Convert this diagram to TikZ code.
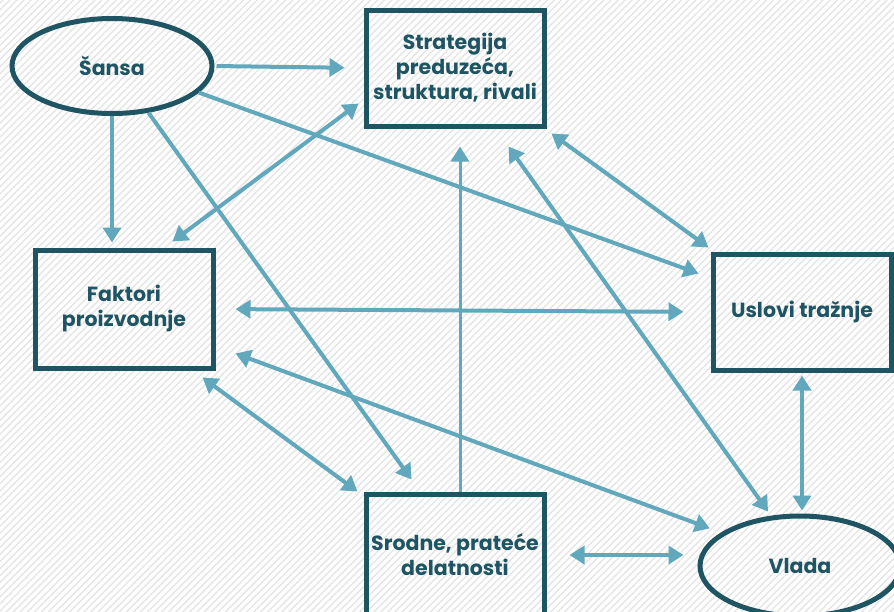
\documentclass[tikz,border=0pt]{standalone}
\usepackage{fontspec}
\setmainfont{Poppins}
\usetikzlibrary{arrows.meta,calc,patterns.meta,shapes.geometric}
\definecolor{tamna}{HTML}{1F5563}
\definecolor{svetla}{HTML}{61A8BC}

\begin{document}
\begin{tikzpicture}[x = 1pt, y = -1pt,
    every node/.style = {draw = tamna, line width = 5pt, text = tamna, align = center,
        font = \fontsize{20.5}{25}\selectfont\bfseries},
    kutija/.style = {rectangle, minimum width = 178pt, minimum height = 116pt},
    elipsa/.style = {ellipse, minimum width = 200pt, minimum height = 95pt},
    vrh/.tip = {Triangle[width = 18pt, length = 15pt]},
    veza/.style = {draw = svetla, line width = 4pt, -vrh},
    dvoveza/.style = {veza, vrh-vrh}]
        \useasboundingbox (0,0) rectangle (894,611);
        \clip (0,0) rectangle (894,611);
        \fill[white] (0,0) rectangle (894,611);
        \fill[pattern = {Lines[angle = 45, distance = 5pt, line width = 1.4pt]},
            pattern color = black!10] (0,0) rectangle (894,611);

        \node[elipsa] (sansa) at (112,66) {Šansa};
        \node[kutija] (strategija) at (455,68) {Strategija\\preduzeća,\\struktura, rivali};
        \node[kutija, minimum height = 118pt] (faktori) at (124,309) {Faktori\\proizvodnje};
        \node[kutija] (uslovi) at (802,312) {Uslovi tražnje};
        \node[kutija, minimum height = 122pt] (srodne) at (455,555) {Srodne, prateće\\delatnosti};
        \node[elipsa, minimum height = 100pt] (vlada) at (800,566) {Vlada};

        % od sanse
        \draw[veza, shorten < = 2pt, shorten > = 19pt] (sansa.east) -- (strategija.west);
        \draw[veza, shorten > = 5pt] (sansa.south) -- (sansa.south |- faktori.north);
        \draw[veza] (sansa.-52) -- ($(srodne.north west)+(48,-12)$);
        \draw[veza] (sansa.-17) -- ($(uslovi.north west)+(-12,22)$);
        % faktori
        \draw[dvoveza] ($(faktori.north east)+(-43,-6)$) -- ($(strategija.south west)+(-5,-25)$);
        \draw[dvoveza, shorten < = 20pt, shorten > = 27pt] (faktori.east) -- (uslovi.west);
        \draw[dvoveza, shorten > = 12pt] ($(faktori.south east)+(20,-17)$) -- (vlada.157);
        \draw[dvoveza] ($(faktori.south east)+(-13,7)$) -- ($(srodne.north west)+(-6,0)$);
        % ostale veze
        \draw[veza, line width = 3pt, shorten > = 18pt] ([xshift = 5pt]srodne.north) -- ([xshift = 5pt]strategija.south);
        \draw[dvoveza, shorten > = 5pt] ($(strategija.south east)+(-38,18)$) -- (vlada.120);
        \draw[dvoveza] ($(strategija.south east)+(5,5)$) -- ($(uslovi.north west)+(-2,-4)$);
        \draw[dvoveza, shorten < = 3pt, shorten > = 3pt] (uslovi.south) -- (uslovi.south |- vlada.north);
        \draw[dvoveza, shorten < = 23pt, shorten > = 14pt] (srodne.east) -- (srodne.east -| vlada.west);
\end{tikzpicture}
\end{document}
